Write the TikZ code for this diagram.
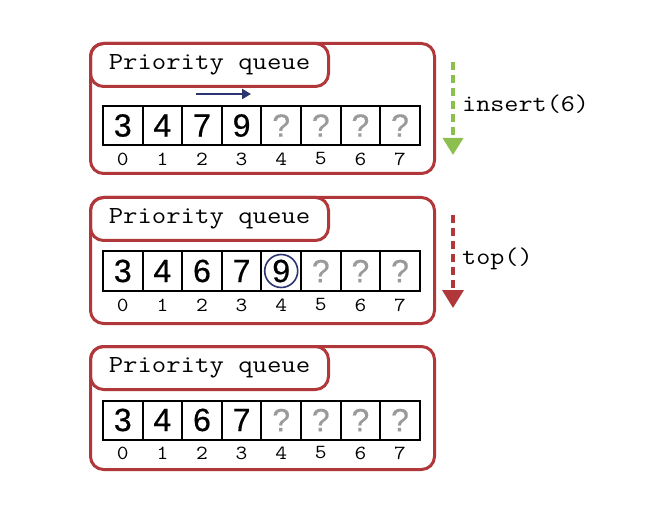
\documentclass[tikz,border=0pt]{standalone}
\usepackage{fontspec}
\setmainfont{Liberation Sans}
\newfontfamily\pqmono[FakeStretch=1.14]{Latin Modern Mono}
\newfontfamily\pqdigit[FakeBold=0.5]{Liberation Sans}
\usetikzlibrary{arrows.meta}
\definecolor{pqred}{HTML}{B0383A}
\definecolor{pqgreen}{HTML}{8CBF4E}
\definecolor{pqblue}{HTML}{2B3572}
\definecolor{pqgrey}{HTML}{9A9A9A}
\tikzset{
  outerbox/.style={draw=pqred, line width=3pt, rounded corners=13pt, anchor=north west,
    minimum width=344pt, inner sep=0pt},
  labelbox/.style={draw=pqred, line width=3pt, rounded corners=13pt, anchor=north west,
    minimum width=238pt, minimum height=43pt, inner sep=0pt, font=\pqmono\fontsize{24.5}{24.5}\selectfont},
  cell/.style={draw=black, line width=2pt, minimum width=39.6pt, minimum height=39pt,
    inner sep=0pt, font=\pqdigit\fontsize{32}{32}\selectfont},
  known/.style={text=black},
  unk/.style={text=pqgrey},
  idx/.style={inner sep=0pt, font=\pqmono\fontsize{20}{20}\selectfont},
  oplabel/.style={anchor=west, inner sep=0pt, font=\pqmono\fontsize{24}{24}\selectfont},
}
\begin{document}
\begin{tikzpicture}[x=1pt,y=-1pt]
\useasboundingbox (0,0) rectangle (660,526);
% panel 1
\node[outerbox, minimum height=130pt] (p1) at (89,42) {};
\node[labelbox] (l1) at (89,42) {Priority queue};
\foreach \v/\s [count=\i from 0] in {3/known,4/known,7/known,9/known,?/unk,?/unk,?/unk,?/unk}{
  \node[cell,\s] (a\i) at ({103+39.6*(\i+0.5)},125.5) {\v};
  \node[idx] (ia\i) at ({103+39.6*(\i+0.5)},159) {\i};
}
\coordinate (s1) at (196,94);
\coordinate (e1) at (251,94);
\draw[pqblue, line width=2pt, -{Triangle[length=9pt,width=10pt]}] (s1) -- (e1);
% panel 2
\node[outerbox, minimum height=126pt] (p2) at (89,196) {};
\node[labelbox] (l2) at (89,196) {Priority queue};
\foreach \v/\s [count=\i from 0] in {3/known,4/known,6/known,7/known,9/known,?/unk,?/unk,?/unk}{
  \node[cell,\s] (b\i) at ({103+39.6*(\i+0.5)},271) {\v};
  \node[idx] (ib\i) at ({103+39.6*(\i+0.5)},305) {\i};
}
\draw[pqblue, line width=1.6pt] (b4.center) circle[radius=16.5pt];
% panel 3
\node[outerbox, minimum height=123pt] (p3) at (89,345) {};
\node[labelbox] (l3) at (89,345) {Priority queue};
\foreach \v/\s [count=\i from 0] in {3/known,4/known,6/known,7/known,?/unk,?/unk,?/unk,?/unk}{
  \node[cell,\s] (c\i) at ({103+39.6*(\i+0.5)},420) {\v};
  \node[idx] (ic\i) at ({103+39.6*(\i+0.5)},453) {\i};
}
% operation arrows
\coordinate (g1) at (453,62);
\coordinate (g2) at (453,155);
\draw[pqgreen, line width=3.5pt, dash pattern=on 8pt off 5pt,
  -{Triangle[length=17pt,width=20pt]}] (g1) -- (g2);
\node[oplabel] (ins) at (462,104) {insert(6)};
\coordinate (r1) at (453,215);
\coordinate (r2) at (453,308);
\draw[pqred, line width=3.5pt, dash pattern=on 8pt off 5pt,
  -{Triangle[length=18pt,width=21pt]}] (r1) -- (r2);
\node[oplabel] (top) at (462,259) {top()};
\end{tikzpicture}
\end{document}
